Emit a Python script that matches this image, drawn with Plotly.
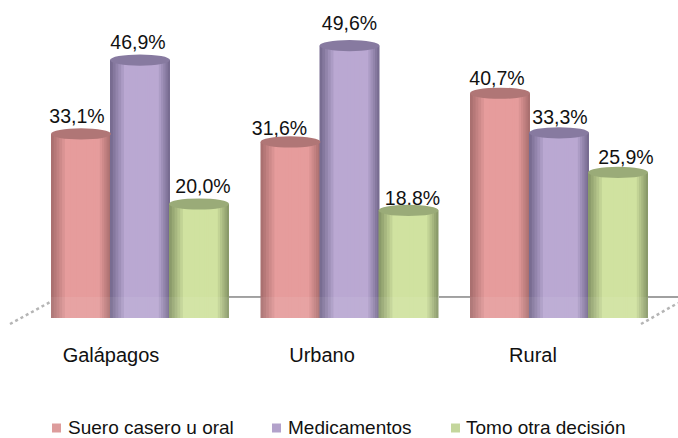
import plotly.graph_objects as go

categories = ["Galápagos", "Urbano", "Rural"]
series_names = ["Suero casero u oral", "Medicamentos", "Tomo otra decisión"]
suero = [33.1, 31.6, 40.7]
medicamentos = [46.9, 49.6, 33.3]
otra = [20.0, 18.8, 25.9]
all_values = [suero, medicamentos, otra]

W, H, B = 678, 470, 125
PX_X, X0 = 209.5, 140
PX_Y, Y0 = 5.35, 311
xr = [-X0 / PX_X, (W - X0) / PX_X]
yr = [(Y0 - (H - B)) / PX_Y, Y0 / PX_Y]
BASE = -7 / PX_Y
BAR_W = 60 / PX_X
OFFS = [-59 / PX_X, 0, 59 / PX_X]
STRIPS = 12
light = [(230, 156, 156), (186, 168, 210), (208, 226, 160)]
edge = [(170, 112, 112), (120, 108, 145), (138, 154, 106)]
cap = [(176, 118, 118), (135, 122, 160), (154, 171, 120)]
swatch = ["#DD9C9C", "#B3A2CB", "#C4D69C"]
label_nudge = [[-4, -11, -3], [-2, 0, 1], [4, 4, 8]]
label_lift = [[0, -4, -3], [0, 5, -2], [0, -5, -2]]


def rgb(c):
    return "rgb(%d,%d,%d)" % tuple(c)


def mix(a, b, t):
    return [a[i] + (b[i] - a[i]) * t for i in range(3)]


fig = go.Figure()
shapes = []


def py(y):
    return 1 - y / (H - B)


def line(x0, y0, x1, y1, color="#808080", width=1.5, dash="solid"):
    shapes.append(dict(type="line", xref="paper", yref="paper", layer="below",
                       x0=x0 / W, x1=x1 / W, y0=py(y0), y1=py(y1),
                       line=dict(color=color, width=width, dash=dash)))


line(229, 297, 262, 297)
line(439, 297, 471, 297)
line(648, 297, 678, 297)
line(10, 324, 52, 301, "#B5B5B5", 2.5, "dot")
line(641, 324, 678, 303, "#B5B5B5", 2.5, "dot")

for s, vals in enumerate(all_values):
    for k in range(STRIPS):
        t = k / (STRIPS - 1)
        w = BAR_W * (1 - t * 0.92)
        shift = 3 * t / PX_X
        fig.add_trace(go.Bar(
            x=[g + OFFS[s] + shift for g in range(3)],
            y=[v - BASE for v in vals], base=BASE, width=w,
            marker=dict(color=rgb(mix(edge[s], light[s], min(1, t * 2.2))), line=dict(width=0)),
            showlegend=False, hoverinfo="skip"))
    for g, v in enumerate(vals):
        cx = g + OFFS[s]
        shapes.append(dict(type="circle", xref="x", yref="y", layer="above",
                           x0=cx - BAR_W / 2, x1=cx + BAR_W / 2,
                           y0=v - 1.05, y1=v + 1.05,
                           fillcolor=rgb(cap[s]), line=dict(width=0)))

# translucent floor band across the feet of the cylinders
shapes.append(dict(type="rect", xref="paper", yref="paper", layer="above",
                   x0=50 / W, x1=650 / W, y0=py(319), y1=py(297),
                   fillcolor="rgba(255,255,255,0.07)", line=dict(width=0)))

for s, vals in enumerate(all_values):
    fig.add_trace(go.Scatter(
        x=[g + OFFS[s] + label_nudge[s][g] / PX_X for g in range(3)],
        y=[v + 1.1 + label_lift[s][g] / PX_Y for g, v in enumerate(vals)], mode="text",
        text=[f"{v:.1f}%".replace(".", ",") for v in vals],
        textposition="top center",
        textfont=dict(family="Liberation Sans", size=19.5, color="#111111"),
        showlegend=False, hoverinfo="skip"))

legend_x = [28, 248, 426]
swatch_x = [52, 272, 451]
for s, name in enumerate(series_names):
    lg = "legend" if s == 0 else f"legend{s + 1}"
    fig.add_trace(go.Scatter(x=[None], y=[None], mode="markers", name=name, legend=lg,
                             marker=dict(symbol="square", size=9, color="rgba(255,255,255,0)",
                                         line=dict(width=0))))
    shapes.append(dict(type="rect", xref="paper", yref="paper", layer="above",
                       x0=swatch_x[s] / W, x1=(swatch_x[s] + 9) / W, y0=py(432.5), y1=py(423.5),
                       fillcolor=swatch[s], line=dict(width=0)))

legend_common = dict(orientation="h", yanchor="middle", y=py(426.5), xanchor="left",
                     bgcolor="rgba(0,0,0,0)",
                     font=dict(family="Liberation Sans", size=19, color="#111111"))

fig.update_layout(
    width=W, height=H, margin=dict(l=0, r=0, t=0, b=B),
    barmode="overlay", plot_bgcolor="white", paper_bgcolor="white",
    shapes=shapes,
    xaxis=dict(range=xr, showgrid=False, zeroline=False, showline=False, ticks="",
               tickmode="array", tickvals=[g - 29 / PX_X + g * 1.5 / PX_X for g in range(3)],
               ticktext=categories, ticklabelstandoff=-4,
               tickfont=dict(family="Liberation Sans", size=20, color="#111111")),
    yaxis=dict(range=yr, visible=False),
    showlegend=True,
    legend=dict(x=legend_x[0] / W, **legend_common),
    legend2=dict(x=legend_x[1] / W, **legend_common),
    legend3=dict(x=legend_x[2] / W, **legend_common),
)
fig.write_html("out.html", config=dict(displayModeBar=False),
               post_script="document.body.style.margin='0';document.body.style.overflow='hidden';")
